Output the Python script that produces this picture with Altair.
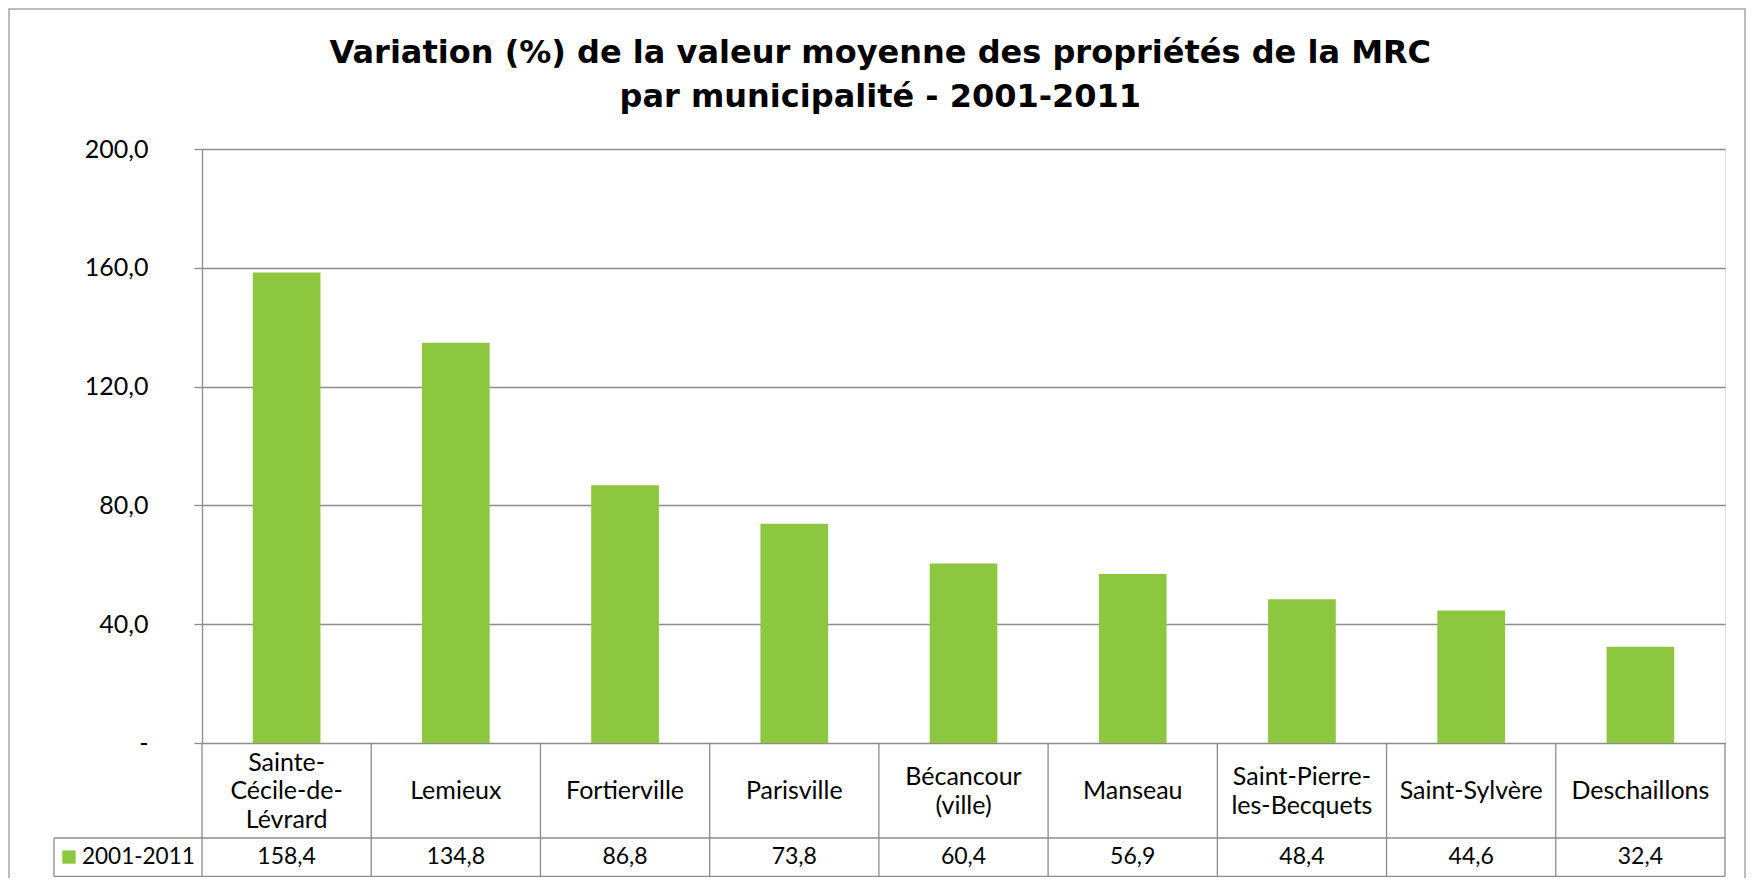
import altair as alt
import pandas as pd

# ---- data ----
municipalites = [
    "Sainte-Cécile-de-Lévrard", "Lemieux", "Fortierville", "Parisville",
    "Bécancour (ville)", "Manseau", "Saint-Pierre-les-Becquets",
    "Saint-Sylvère", "Deschaillons",
]
etiquettes = [
    "Sainte-\nCécile-de-\nLévrard", "Lemieux", "Fortierville", "Parisville",
    "Bécancour\n(ville)", "Manseau", "Saint-Pierre-\nles-Becquets",
    "Saint-Sylvère", "Deschaillons",
]
variation = [158.4, 134.8, 86.8, 73.8, 60.4, 56.9, 48.4, 44.6, 32.4]
serie = "2001-2011"
y_ticks = [0, 40, 80, 120, 160, 200]
titre = [
    "Variation (%) de la valeur moyenne des propriétés de la MRC",
    "par municipalité - 2001-2011",
]

df = pd.DataFrame({"municipalite": municipalites, "etiquette": etiquettes,
                   "variation": variation})
one = pd.DataFrame({"k": [0]})

# ---- style ----
GREEN = "#8DC63F"
GRID = "#8C8C8C"
FONT = "Lato"
W, H = 1523, 594
ROW1 = 689      # bottom of category row (relative to plot top)
ROW2 = 727.4    # bottom of value row
LEFT = -148     # left edge of legend cell
LH = 28.5       # line height in category cells

def xcat(pos=0.5):
    return alt.X("municipalite:N", sort=None, bandPosition=pos,
                 scale=alt.Scale(paddingInner=0, paddingOuter=0), axis=None)

base = alt.Chart(df)

border = alt.Chart(one).mark_rect(filled=False, stroke="#A6A6A6", strokeWidth=1.5).encode(
    x=alt.value(-193), x2=alt.value(1543), y=alt.value(-140), y2=alt.value(760))

bars = base.mark_bar(width=alt.RelativeBandSize(0.4), color=GREEN).encode(
    x=xcat(),
    y=alt.Y("variation:Q", title=None,
            scale=alt.Scale(domain=[0, 200], nice=False),
            axis=alt.Axis(values=y_ticks, grid=True, gridColor=GRID, gridWidth=1.3,
                          domainColor=GRID, domainWidth=1.3, tickColor=GRID,
                          tickWidth=1.3, tickSize=8, labelPadding=46,
                          labelFont=FONT, labelFontSize=25, labelColor="#000",
                          labelExpr="datum.value == 0 ? '-\u00a0\u00a0\u00a0' : replace(format(datum.value, '.1f'), '.', ',')")),
)

vlines = base.mark_rule(color=GRID, strokeWidth=1.3).encode(
    x=xcat(0), y=alt.value(H), y2=alt.value(ROW2))
right_edge = alt.Chart(one).mark_rule(color=GRID, strokeWidth=1.3).encode(
    x=alt.value("width"), y=alt.value(H), y2=alt.value(ROW2))
hline1 = alt.Chart(one).mark_rule(color=GRID, strokeWidth=1.3).encode(
    x=alt.value(LEFT), x2=alt.value("width"), y=alt.value(ROW1))
hline2 = alt.Chart(one).mark_rule(color=GRID, strokeWidth=1.3).encode(
    x=alt.value(LEFT), x2=alt.value("width"), y=alt.value(ROW2))
left_edge = alt.Chart(one).mark_rule(color=GRID, strokeWidth=1.3).encode(
    x=alt.value(LEFT), y=alt.value(ROW1), y2=alt.value(ROW2))

def cat_layer(nlines):
    return base.transform_calculate(
        n="length(split(datum.etiquette, '\\n'))"
    ).transform_filter(f"datum.n == {nlines}").mark_text(
        font=FONT, fontSize=25, lineBreak="\n", lineHeight=LH,
        baseline="middle", align="center", color="#000",
        dy=-(nlines - 1) * LH / 2,
    ).encode(x=xcat(), y=alt.value(642.4), text="etiquette:N")

val_text = base.transform_calculate(
    lab="replace(format(datum.variation, '.1f'), '.', ',')"
).mark_text(font=FONT, fontSize=23, baseline="middle", align="center", color="#000").encode(
    x=xcat(), y=alt.value(708.2), text="lab:N")

key = alt.Chart(one).mark_rect(color=GREEN).encode(
    x=alt.value(-139.7), x2=alt.value(-126.4), y=alt.value(701.4), y2=alt.value(714.7))
key_text = alt.Chart(one).mark_text(font=FONT, fontSize=22.5, baseline="middle",
                                    align="left", color="#000").encode(
    x=alt.value(-120), y=alt.value(708.2), text=alt.value(serie))

title = alt.Chart(one).mark_text(font="DejaVu Sans", fontSize=32, fontWeight="bold",
                                 baseline="alphabetic", align="center",
                                 lineHeight=44, color="#000").encode(
    x=alt.value(678.3), y=alt.value(-86.3), text=alt.value(titre))

chart = alt.layer(
    border, bars, vlines, right_edge, hline1, hline2, left_edge,
    cat_layer(1), cat_layer(2), cat_layer(3), val_text, key, key_text, title,
).properties(
    width=W, height=H, autosize="none",
    padding={"left": 194, "top": 141, "right": 21, "bottom": 135},
).configure_view(stroke=None).configure(background="white")

chart.save("out.html", embed_options={"renderer": "svg", "actions": False})
